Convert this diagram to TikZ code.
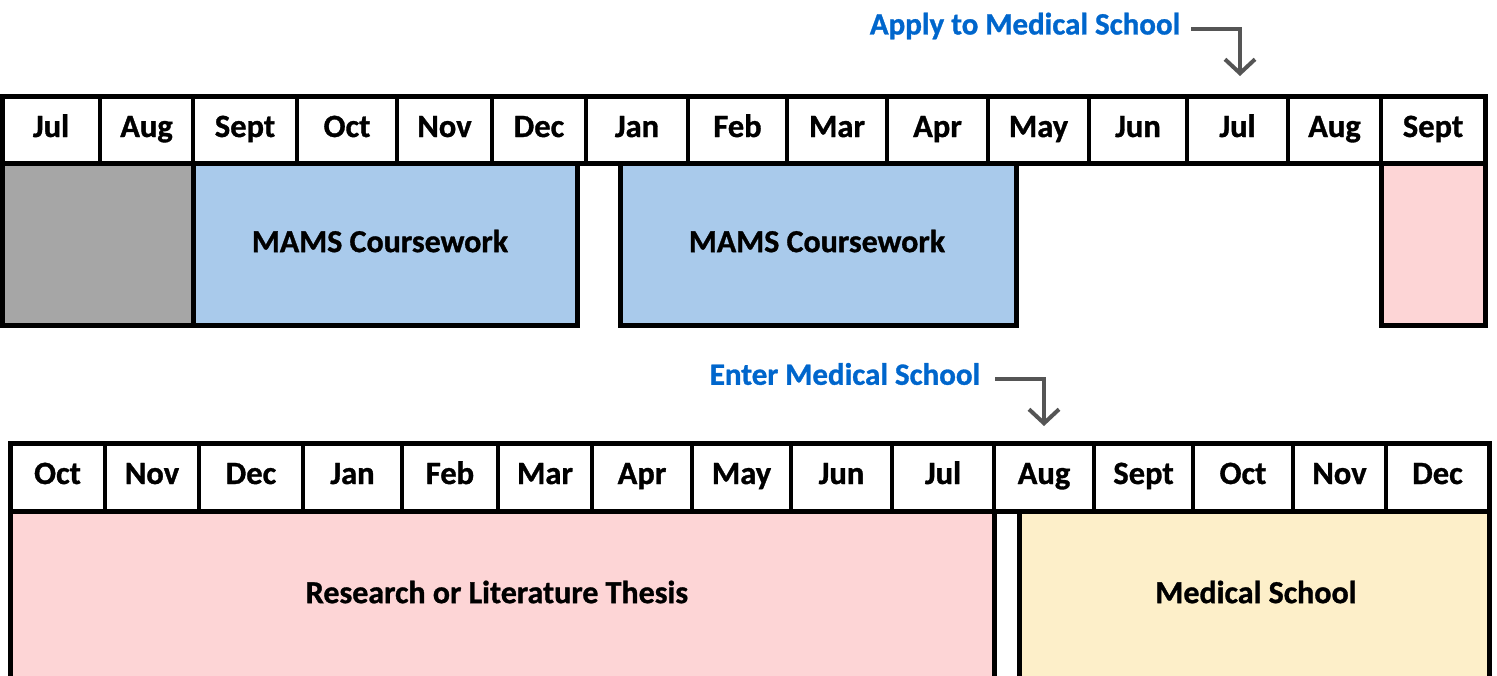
\documentclass[tikz,border=0pt]{standalone}
\usepackage{fontspec}
\setmainfont{Carlito}[BoldFeatures={FakeBold=1}]
\usetikzlibrary{arrows.meta}
\definecolor{blockblue}{HTML}{A9CAEB}
\definecolor{blockgray}{HTML}{A6A6A6}
\definecolor{blockpink}{HTML}{FDD5D6}
\definecolor{blockyellow}{HTML}{FDEFC9}
\definecolor{labelblue}{HTML}{0066CC}
\definecolor{arrowgray}{HTML}{555555}
\begin{document}
\begin{tikzpicture}[x=1pt,y=-1pt,
  cellline/.style={draw=black,line width=4pt},
  outerline/.style={draw=black,line width=5pt,line join=miter},
  monthtxt/.style={font=\fontsize{32.5}{34}\selectfont\bfseries,inner sep=0pt,text height=22pt,text depth=6pt},
  blocktxt/.style={font=\fontsize{32}{34}\selectfont\bfseries,inner sep=0pt},
  eventtxt/.style={font=\fontsize{31}{34}\selectfont\bfseries,text=labelblue,inner sep=0pt},
  eventarrow/.style={draw=arrowgray,line width=4pt,-{Straight Barb[length=14pt,width=30pt,line width=4pt]}}
]
\useasboundingbox (0,0) rectangle (1497,675);
\clip (0,0) rectangle (1497,675);

% ---------- top timeline ----------
% blocks
\fill[blockgray] (2,163) rectangle (193,325);
\fill[blockblue] (193,163) rectangle (577,325);
\fill[blockblue] (620,163) rectangle (1016,325);
\fill[blockpink] (1381,163) rectangle (1485,325);
\draw[outerline] (2,163) rectangle (193,325);
\draw[outerline] (193,163) rectangle (577,325);
\draw[outerline] (620,163) rectangle (1016,325);
\draw[outerline] (1381,163) rectangle (1485,325);
\node[blocktxt] (mams1) at (380,241) {MAMS Coursework};
\node[blocktxt] (mams2) at (817,241) {MAMS Coursework};

% header
\foreach \a/\b/\t [count=\i] in {2/100/Jul,100/193/Aug,193/297/Sept,297/397/Oct,397/492/Nov,492/586/Dec,586/688/Jan,688/787/Feb,787/887/Mar,887/988/Apr,988/1089/May,1089/1187/Jun,1187/1288/Jul,1288/1381/Aug,1381/1485/Sept}{
  \fill[white] (\a,96) rectangle (\b,163);
  \draw[cellline] (\a,96) rectangle (\b,163);
  \node[monthtxt] (top\i) at ({(\a+\b)/2},129) {\t};
}
\draw[outerline] (2,96) rectangle (1485,163);

% apply arrow
\node[eventtxt] (apply) at (1025,26) {Apply to Medical School};
\coordinate (applytip) at (1240,76);
\draw[eventarrow] ([xshift=11pt,yshift=-3pt]apply.east) -| (applytip);

% ---------- bottom timeline ----------
\fill[blockpink] (10,511) rectangle (994,700);
\fill[blockyellow] (1019,511) rectangle (1489,700);
\draw[outerline] (10,511) rectangle (994,700);
\draw[outerline] (1019,511) rectangle (1489,700);
\node[blocktxt] (thesis) at (497,592) {Research or Literature Thesis};
\node[blocktxt] (medschool) at (1256,592) {Medical School};

\foreach \a/\b/\t [count=\i] in {10/105/Oct,105/199/Nov,199/303/Dec,303/402/Jan,402/498/Feb,498/592/Mar,592/692/Apr,692/791/May,791/892/Jun,892/994/Jul,994/1094/Aug,1094/1193/Sept,1193/1293/Oct,1293/1386/Nov,1386/1489/Dec}{
  \fill[white] (\a,443) rectangle (\b,511);
  \draw[cellline] (\a,443) rectangle (\b,511);
  \node[monthtxt] (bot\i) at ({(\a+\b)/2},476) {\t};
}
\draw[outerline] (10,443) rectangle (1489,511);

% enter arrow
\node[eventtxt] (enter) at (845,374) {Enter Medical School};
\coordinate (entertip) at (1044,426);
\draw[eventarrow] ([xshift=15pt,yshift=-5pt]enter.east) -| (entertip);
\end{tikzpicture}
\end{document}
